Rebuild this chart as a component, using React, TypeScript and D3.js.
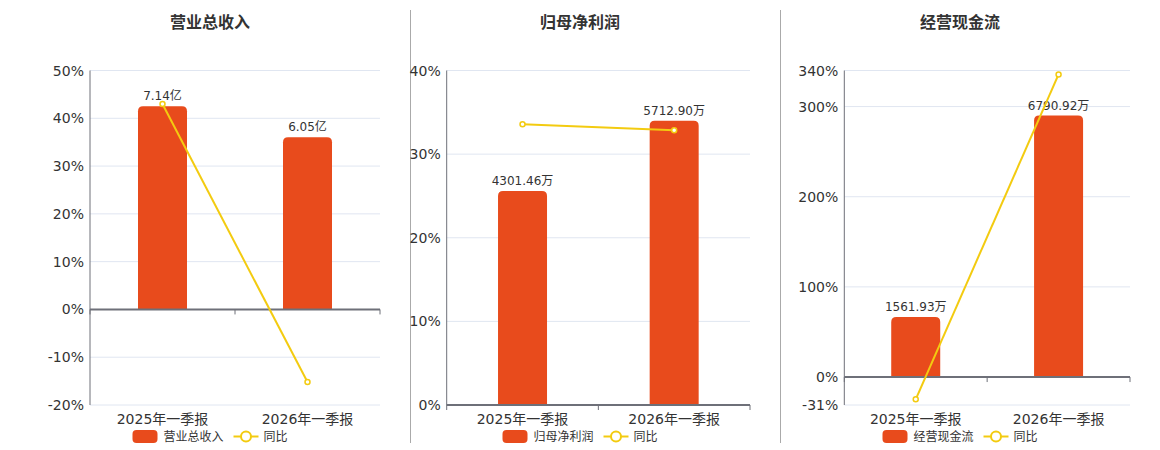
import React from 'react';
import * as d3 from 'd3';

const categories = ['2025年一季报', '2026年一季报'];

const titles = ['营业总收入', '归母净利润', '经营现金流'];
const barLabels = [
  ['7.14亿', '6.05亿'],
  ['4301.46万', '5712.90万'],
  ['1561.93万', '6790.92万'],
];
const revenue = [7.14, 6.05];
const netProfit = [4301.46, 5712.9];
const cashFlow = [1561.93, 6790.92];
const revenueYoy = [42.98, -15.2];
const netProfitYoy = [33.57, 32.86];
const cashFlowYoy = [-24.7, 335.6];

const revenueTicks = [50, 40, 30, 20, 10, 0, -10, -20];
const netProfitTicks = [40, 30, 20, 10, 0];
const cashFlowTicks = [340, 300, 200, 100, 0, -31];

// hidden bar axis max, aligned with the top percent tick
const barMaxes = [8.4, 6720, 7960];

const BAR = '#E84B1C';
const LINE = '#F3CB10';

interface PanelProps {
  title: string;
  bars: number[];
  labels: string[];
  yoy: number[];
  ticks: number[];
  barMax: number;
  x0: number;
  x1: number;
  center: number;
}

const Panel = ({ title, bars, labels, yoy, ticks, barMax, x0, x1, center }: PanelProps) => {
  const top = 70.5;
  const bottom = 405;
  const y = d3
    .scaleLinear()
    .domain([d3.min(ticks)!, d3.max(ticks)!])
    .range([bottom, top]);
  const yBar = d3.scaleLinear().domain([0, barMax]).range([y(0), top]);
  const x = d3.scaleBand().domain(categories).range([x0, x1]);
  const bw = 49;
  const r = 5;
  const line = d3
    .line<number>()
    .x((_d, i) => x(categories[i])! + x.bandwidth() / 2)
    .y((d) => y(d));

  const barPath = (cx: number, yt: number, yb: number) => {
    const l = cx - bw / 2;
    const rr = l + bw;
    return `M${l},${yb}V${yt + r}Q${l},${yt} ${l + r},${yt}H${rr - r}Q${rr},${yt} ${rr},${yt + r}V${yb}Z`;
  };

  const legendText = 12;
  const nameW = title.length * legendText;
  const legendW = 25 + 6 + nameW + 10 + 25 + 5 + 24;
  const lx = center - legendW / 2;

  return (
    <g>
      <text x={center} y={28} textAnchor="middle" fontSize={16} fontWeight="bold" fill="#333">
        {title}
      </text>
      {ticks.map((t) => (
        <g key={t}>
          {t !== 0 && (
            <line x1={x0} x2={x1} y1={y(t)} y2={y(t)} stroke="#E0E6F1" strokeWidth={1} />
          )}
          <text
            x={x0 - 6}
            y={y(t)}
            dy="0.36em"
            textAnchor="end"
            fontSize={14}
            fill="#333"
          >
            {t}%
          </text>
        </g>
      ))}
      <line x1={x0} x2={x0} y1={top} y2={bottom} stroke="#6E7079" strokeWidth={1} />
      {bars.map((v, i) => {
        const cx = x(categories[i])! + x.bandwidth() / 2;
        return (
          <g key={i}>
            <path d={barPath(cx, yBar(v), y(0))} fill={BAR} />
            <text x={cx} y={yBar(v) - 6} textAnchor="middle" fontSize={12} fill="#333">
              {labels[i]}
            </text>
          </g>
        );
      })}
      <line x1={x0} x2={x1} y1={y(0)} y2={y(0)} stroke="#6E7079" strokeWidth={2} />
      {[x0, x0 + x.bandwidth(), x1].map((tx, i) => (
        <line key={i} x1={tx} x2={tx} y1={y(0)} y2={y(0) + 5} stroke="#6E7079" strokeWidth={1} />
      ))}
      <path d={line(yoy) ?? ''} fill="none" stroke={LINE} strokeWidth={2} />
      {yoy.map((v, i) => (
        <circle
          key={i}
          cx={x(categories[i])! + x.bandwidth() / 2}
          cy={y(v)}
          r={2.5}
          fill="#fff"
          stroke={LINE}
          strokeWidth={1.5}
        />
      ))}
      {categories.map((c) => (
        <text
          key={c}
          x={x(c)! + x.bandwidth() / 2}
          y={419}
          dy="0.36em"
          textAnchor="middle"
          fontSize={14}
          fill="#333"
        >
          {c}
        </text>
      ))}
      <g transform={`translate(${lx},436.5)`}>
        <rect x={0} y={-6.5} width={25} height={13} rx={4} fill={BAR} />
        <text x={31} y={0} dy="0.36em" fontSize={legendText} fill="#333">
          {title}
        </text>
        <g transform={`translate(${31 + nameW + 10},0)`}>
          <line x1={0} x2={25} y1={0} y2={0} stroke={LINE} strokeWidth={2} />
          <circle cx={12.5} cy={0} r={5} fill="#fff" stroke={LINE} strokeWidth={2} />
          <text x={30} y={0} dy="0.36em" fontSize={legendText} fill="#333">
            同比
          </text>
        </g>
      </g>
    </g>
  );
};

export default function App() {
  const panels = [
    { bars: revenue, yoy: revenueYoy, ticks: revenueTicks, x0: 90, x1: 380, center: 210 },
    { bars: netProfit, yoy: netProfitYoy, ticks: netProfitTicks, x0: 446.7, x1: 750, center: 580 },
    { bars: cashFlow, yoy: cashFlowYoy, ticks: cashFlowTicks, x0: 844.3, x1: 1130, center: 960 },
  ];
  return (
    <svg
      width={1160}
      height={450}
      style={{
        position: 'absolute',
        left: 0,
        top: 0,
        fontFamily: "'DejaVu Sans', 'Noto Sans CJK SC', sans-serif",
      }}
    >
      <rect width={1160} height={450} fill="#fff" />
      <line x1={410.5} x2={410.5} y1={10} y2={443} stroke="#AAA" strokeWidth={1} />
      <line x1={780.5} x2={780.5} y1={10} y2={443} stroke="#AAA" strokeWidth={1} />
      {panels.map((p, i) => (
        <Panel
          key={i}
          title={titles[i]}
          labels={barLabels[i]}
          barMax={barMaxes[i]}
          {...p}
        />
      ))}
    </svg>
  );
}
